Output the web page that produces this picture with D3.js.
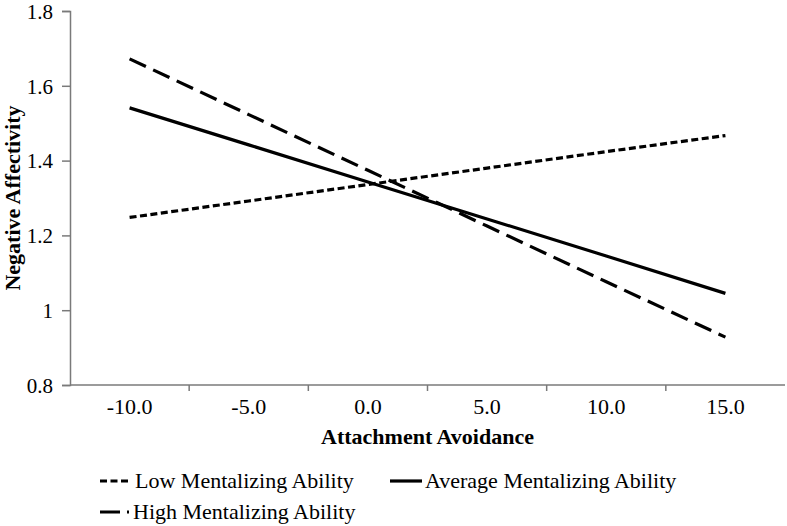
<!DOCTYPE html>
<html>
<head>
<meta charset="utf-8">
<script src="https://cdn.jsdelivr.net/npm/d3@7"></script>
<style>
  html, body { margin: 0; padding: 0; background: #fff; }
  svg { display: block; }
  text { font-family: "Liberation Serif", "Times New Roman", serif; fill: #000; }
</style>
</head>
<body>
<script>
// ---- data ----
const categories = ["-10.0", "-5.0", "0.0", "5.0", "10.0", "15.0"];
const lowValues = [1.248, 1.292, 1.336, 1.380, 1.424, 1.467];
const averageValues = [1.541, 1.442, 1.343, 1.244, 1.145, 1.045];
const highValues = [1.672, 1.523, 1.374, 1.225, 1.076, 0.928];
const seriesNames = ["Low Mentalizing Ability", "Average Mentalizing Ability", "High Mentalizing Ability"];
const yTicks = [0.8, 1.0, 1.2, 1.4, 1.6, 1.8];
const yTickLabels = ["0.8", "1", "1.2", "1.4", "1.6", "1.8"];

const W = 787, H = 526;
const plot = { left: 70, right: 785, top: 11, bottom: 385 };

const svg = d3.select("body").append("svg").attr("width", W).attr("height", H);

const x = d3.scaleBand().domain(categories).range([plot.left, plot.right]).paddingInner(0).paddingOuter(0);
const xc = c => x(c) + x.bandwidth() / 2;
const y = d3.scaleLinear().domain([0.8, 1.8]).range([plot.bottom, plot.top]);

const axisColor = "#7a7a7a";

// y axis
const yAxis = d3.axisLeft(y).tickValues(yTicks).tickSize(8)
  .tickFormat((d, i) => yTickLabels[i]);
const gy = svg.append("g").attr("transform", `translate(${plot.left},0)`).call(yAxis);
gy.select(".domain").attr("stroke", axisColor).attr("stroke-width", 1.5);
gy.selectAll(".tick line").attr("stroke", axisColor).attr("stroke-width", 1.5);
gy.selectAll(".tick text")
  .attr("x", -17).attr("dy", "0.35em")
  .style("font-family", "'Liberation Serif', serif").style("font-size", "21px").attr("fill", "#000");

// x axis (labels at category centers, ticks at category boundaries)
const xAxis = d3.axisBottom(x).tickSize(0).tickSizeOuter(0);
const gx = svg.append("g").attr("transform", `translate(0,${plot.bottom})`).call(xAxis);
gx.select(".domain").attr("stroke", axisColor).attr("stroke-width", 1.5)
  .attr("d", `M${plot.left},0H${plot.right}`);
gx.selectAll(".tick text").attr("y", 24).attr("dy", "0")
  .style("font-family", "'Liberation Serif', serif").style("font-size", "22px").attr("fill", "#000")
  .attr("dominant-baseline", "middle");
gx.selectAll(".boundary").data(categories.slice(1)).enter().append("line")
  .attr("class", "boundary")
  .attr("x1", d => x(d)).attr("x2", d => x(d))
  .attr("y1", 0).attr("y2", 6)
  .attr("stroke", axisColor).attr("stroke-width", 1.5);

// series lines
const series = [
  { name: seriesNames[0], values: lowValues, dash: "7,3.5" },
  { name: seriesNames[1], values: averageValues, dash: null },
  { name: seriesNames[2], values: highValues, dash: "18,8" }
];
const line = d3.line().x((d, i) => xc(categories[i])).y(d => y(d));
series.forEach(s => {
  const p = svg.append("path").datum(s.values)
    .attr("d", line).attr("fill", "none")
    .attr("stroke", "#000").attr("stroke-width", 3.2);
  if (s.dash) p.attr("stroke-dasharray", s.dash);
});

// axis titles
svg.append("text")
  .attr("x", (plot.left + plot.right) / 2).attr("y", 444)
  .attr("text-anchor", "middle")
  .style("font-size", "22px").style("font-weight", "bold")
  .text("Attachment Avoidance");

svg.append("text")
  .attr("transform", `translate(20,${198}) rotate(-90)`)
  .attr("text-anchor", "middle")
  .style("font-size", "22px").style("font-weight", "bold")
  .text("Negative Affectivity");

// legend
const legendItems = [
  { s: series[0], x: 100, y: 488, len: 31, tx: 135 },
  { s: series[1], x: 390, y: 488, len: 32, tx: 425 },
  { s: series[2], x: 100, y: 519, len: 29, tx: 133, dash: "20,7" }
];
legendItems.forEach(it => {
  const l = svg.append("line")
    .attr("x1", it.x).attr("x2", it.x + it.len)
    .attr("y1", it.y - 7).attr("y2", it.y - 7)
    .attr("stroke", "#000").attr("stroke-width", 3.2);
  const d = it.dash || it.s.dash;
  if (d) l.attr("stroke-dasharray", d);
  svg.append("text").attr("x", it.tx).attr("y", it.y)
    .style("font-size", "22px").text(it.s.name);
});
</script>
</body>
</html>
